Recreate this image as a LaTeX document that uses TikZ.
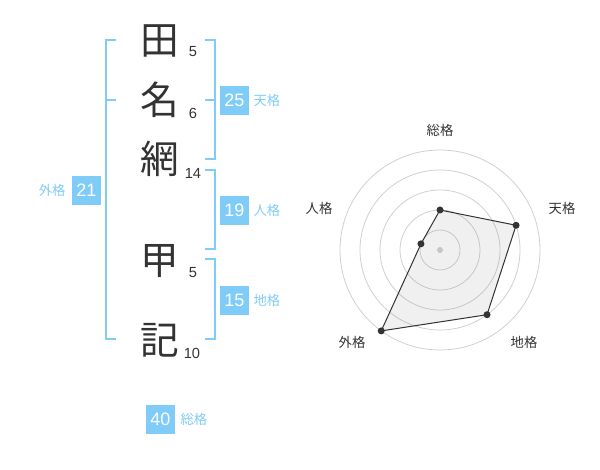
\documentclass[tikz,border=0pt]{standalone}
\usepackage{fontspec}
\setmainfont{Liberation Sans}
\newfontfamily\cjk{Noto Sans CJK JP}
\usetikzlibrary{positioning}

\definecolor{kakublue}{RGB}{128,204,248}
\definecolor{inkgray}{RGB}{51,51,51}
\definecolor{ringgray}{RGB}{208,208,208}

\begin{document}
\begin{tikzpicture}[x=0.75pt, y=-0.75pt,
  kanji/.style={font=\cjk\fontsize{29}{29}\selectfont, text=inkgray, inner sep=0pt},
  strokes/.style={font=\fontsize{11}{11}\selectfont, text=inkgray, inner sep=0pt},
  bracket/.style={draw=kakublue, line width=1.5pt},
  kakubox/.style={fill=kakublue, text=white, minimum size=21.75pt, inner sep=0pt, font=\fontsize{13.5}{13.5}\selectfont},
  kakuname/.style={text=kakublue, inner sep=0pt, font=\cjk\fontsize{10}{10}\selectfont},
  axisname/.style={text=inkgray, inner sep=0pt, font=\cjk\fontsize{10}{10}\selectfont}]

\useasboundingbox (0,0) rectangle (600,470);

% Name, one character per line
\node[kanji] (c1) at (160,41) {田};
\node[kanji] (c2) at (160,100) {名};
\node[kanji] (c3) at (160,159) {網};
\node[kanji] (c4) at (160,261) {甲};
\node[kanji] (c5) at (160,340) {記};

% Stroke counts
\node[strokes] (s1) at (193,52) {5};
\node[strokes] (s2) at (193,113) {6};
\node[strokes] (s3) at (193,173) {14};
\node[strokes] (s4) at (193,273) {5};
\node[strokes] (s5) at (192,353) {10};

% Bracket ends
\coordinate (gaiTop) at (116,40);
\coordinate (gaiMid) at (116,100);
\coordinate (gaiBot) at (116,339);
\coordinate (tenTop) at (205,40);
\coordinate (tenMid) at (205,100);
\coordinate (tenBot) at (205,159);
\coordinate (jinTop) at (205,170);
\coordinate (jinBot) at (205,249);
\coordinate (chiTop) at (205,259);
\coordinate (chiBot) at (205,339);

% Brackets
\draw[bracket] (gaiTop) -- ++(-10,0) |- (gaiBot);
\draw[bracket] (gaiMid) -- ++(-10,0);
\draw[bracket] (tenTop) -- ++(10,0) |- (tenBot);
\draw[bracket] (tenMid) -- ++(10,0);
\draw[bracket] (jinTop) -- ++(10,0) |- (jinBot);
\draw[bracket] (chiTop) -- ++(10,0) |- (chiBot);

% Totals
\node[kakubox] (ten) at (234.5,100.5) {25};
\node[kakuname, right=3pt of ten] (tenName) {天格};
\node[kakubox] (jin) at (234.5,210.5) {19};
\node[kakuname, right=3pt of jin] (jinName) {人格};
\node[kakubox] (chi) at (234.5,300.5) {15};
\node[kakuname, right=3pt of chi] (chiName) {地格};
\node[kakubox] (gai) at (86.5,190.5) {21};
\node[kakuname, left=4.5pt of gai] (gaiName) {外格};
\node[kakubox] (so) at (160.5,419) {40};
\node[kakuname, right=3.75pt of so] (soName) {総格};

% Radar chart
\begin{scope}[shift={(440,250)}, yscale=-1]
  \foreach \r in {20,40,...,100}
    \draw[ringgray, line width=0.6pt] (0,0) circle (\r);
  \fill[ringgray] (0,0) circle (3);

  \coordinate (pSo) at (90:40);
  \coordinate (pTen) at (18:80);
  \coordinate (pChi) at (-54:80);
  \coordinate (pGai) at (-126:100);
  \coordinate (pJin) at (162:20);

  \filldraw[fill=gray, fill opacity=0.12, draw=inkgray, line width=0.75pt]
    (pSo) -- (pTen) -- (pChi) -- (pGai) -- (pJin) -- cycle;
  \foreach \p in {pSo,pTen,pChi,pGai,pJin}
    \fill[inkgray] (\p) circle (3.5);

  \node[axisname] (aSo) at (0,120) {総格};
  \node[axisname] (aTen) at (122,42) {天格};
  \node[axisname] (aChi) at (84,-92) {地格};
  \node[axisname] (aGai) at (-88,-92) {外格};
  \node[axisname] (aJin) at (-121,42) {人格};
\end{scope}

\end{tikzpicture}
\end{document}
